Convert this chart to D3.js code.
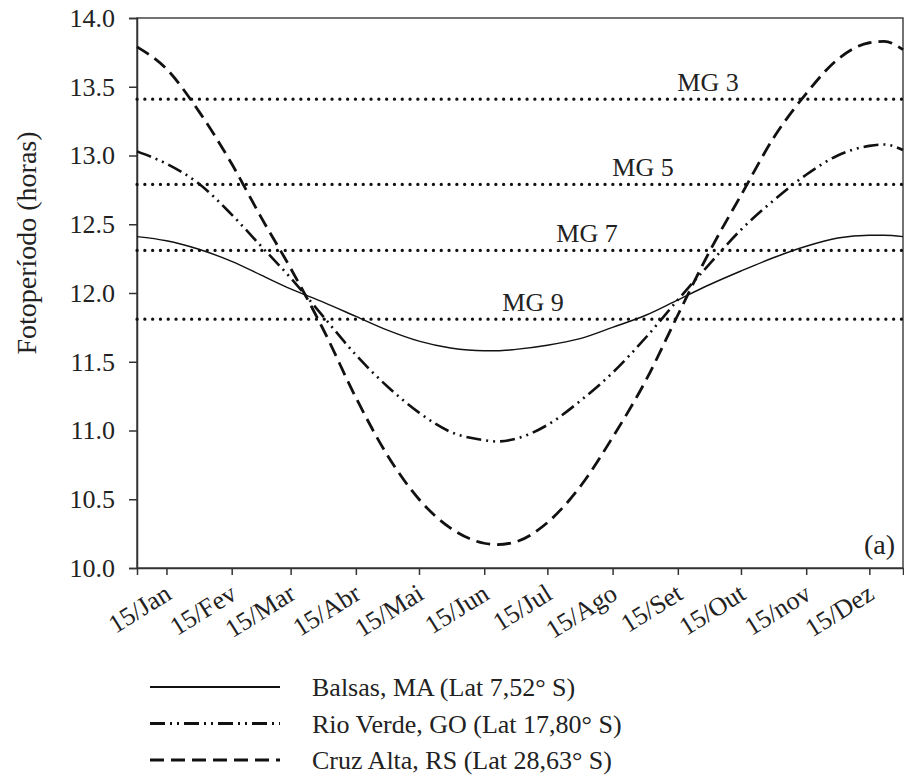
<!DOCTYPE html>
<html>
<head>
<meta charset="utf-8">
<script src="https://cdn.jsdelivr.net/npm/d3@7"></script>
<style>
  body { margin: 0; background: #fff; }
  svg { display: block; }
  svg text { font-family: "Liberation Serif", "Tinos", "Times New Roman", Times, "DejaVu Serif", serif; fill: #222; }
  .axis text { font-size: 26px; }
  .axis path, .axis line { stroke: #333; stroke-width: 1.5px; }
</style>
</head>
<body>
<div id="chart"></div>
<script>
// day of year for each sample
const days = [1, 15, 30, 46, 60, 74, 90, 105, 120, 135, 150, 166, 172, 181, 196,
  212, 227, 243, 258, 273, 288, 304, 319, 334, 349, 356, 365];

const balsas = [12.41, 12.38, 12.32, 12.23, 12.13, 12.03, 11.93, 11.83, 11.73, 11.65,
  11.60, 11.58, 11.58, 11.59, 11.62, 11.67, 11.75, 11.84, 11.95, 12.06, 12.16,
  12.26, 12.34, 12.40, 12.42, 12.42, 12.41];

const rioVerde = [13.03, 12.94, 12.80, 12.57, 12.34, 12.11, 11.82, 11.55, 11.32, 11.13,
  10.99, 10.93, 10.92, 10.94, 11.04, 11.22, 11.42, 11.68, 11.95, 12.21, 12.46,
  12.68, 12.86, 13.00, 13.07, 13.08, 13.04];

const cruzAlta = [13.79, 13.63, 13.33, 12.94, 12.55, 12.18, 11.72, 11.24, 10.82, 10.50,
  10.29, 10.18, 10.17, 10.19, 10.33, 10.60, 10.95, 11.37, 11.84, 12.30, 12.71,
  13.14, 13.45, 13.70, 13.82, 13.83, 13.77];

const seriesNames = [
  'Balsas, MA (Lat 7,52° S)',
  'Rio Verde, GO (Lat 17,80° S)',
  'Cruz Alta, RS (Lat 28,63° S)',
];

const mgLabels = ['MG 3', 'MG 5', 'MG 7', 'MG 9'];
const mgValues = [13.41, 12.79, 12.31, 11.81];

const tickDays = [15, 46, 74, 105, 135, 166, 196, 227, 258, 288, 319, 349];
const tickLabels = ['15/Jan', '15/Fev', '15/Mar', '15/Abr', '15/Mai', '15/Jun',
  '15/Jul', '15/Ago', '15/Set', '15/Out', '15/nov', '15/Dez'];

const yTicks = [10.0, 10.5, 11.0, 11.5, 12.0, 12.5, 13.0, 13.5, 14.0];

const width = 904;
const height = 779;
const margin = { top: 18, right: 1, bottom: 211, left: 137 };
const innerW = width - margin.left - margin.right;
const innerH = height - margin.top - margin.bottom;

const svg = d3.select('#chart')
  .append('svg')
  .attr('width', width)
  .attr('height', height);

const chart = svg.append('g')
  .attr('transform', `translate(${margin.left},${margin.top})`);

const x = d3.scaleLinear().domain([1, 365]).range([0, innerW]);
const y = d3.scaleLinear().domain([10, 14]).range([innerH, 0]);

// frame
chart.append('rect')
  .attr('width', innerW)
  .attr('height', innerH)
  .attr('fill', 'none')
  .attr('stroke', '#444')
  .attr('stroke-width', 1.5);

// axes
chart.append('g')
  .attr('class', 'axis')
  .call(d3.axisLeft(y).tickValues(yTicks).tickFormat(d3.format('.1f'))
    .tickSizeOuter(0).tickSize(8).tickPadding(14));

const xAxis = chart.append('g')
  .attr('class', 'axis')
  .attr('transform', `translate(0,${innerH})`)
  .call(d3.axisBottom(x).tickValues(tickDays)
    .tickFormat((d, i) => tickLabels[i]).tickSizeOuter(0).tickSize(7));

xAxis.selectAll('.tick text')
  .attr('text-anchor', 'end')
  .attr('dy', null)
  .attr('y', 0)
  .attr('transform', 'translate(6,30) rotate(-32)');

// MG reference lines
const mg = chart.append('g');
mg.selectAll('line')
  .data(mgValues)
  .join('line')
  .attr('x1', 0)
  .attr('x2', innerW)
  .attr('y1', (d) => y(d))
  .attr('y2', (d) => y(d))
  .attr('stroke', '#111')
  .attr('stroke-width', 3.2)
  .attr('stroke-linecap', 'round')
  .attr('stroke-dasharray', '0.1 7.7');

const mgLabelX = [571, 506, 450, 396];
mg.selectAll('text')
  .data(mgLabels)
  .join('text')
  .attr('x', (d, i) => mgLabelX[i])
  .attr('y', (d, i) => y(mgValues[i]) - 8)
  .attr('text-anchor', 'middle')
  .attr('font-size', 26)
  .text((d) => d);

// series
const styles = [
  { width: 1.4, dash: null },
  { width: 2.6, dash: '15 5 2 5 2 5' },
  { width: 2.8, dash: '14 7' },
];
const seriesValues = [balsas, rioVerde, cruzAlta];

const line = d3.line()
  .x((d) => x(d[0]))
  .y((d) => y(d[1]))
  .curve(d3.curveMonotoneX);

chart.append('g')
  .selectAll('path')
  .data(seriesValues)
  .join('path')
  .attr('d', (vals) => line(days.map((d, i) => [d, vals[i]])))
  .attr('fill', 'none')
  .attr('stroke', '#111')
  .attr('stroke-width', (d, i) => styles[i].width)
  .attr('stroke-dasharray', (d, i) => styles[i].dash);

chart.append('text')
  .attr('x', innerW - 8)
  .attr('y', innerH - 14)
  .attr('text-anchor', 'end')
  .attr('font-size', 28)
  .text('(a)');

// y label
svg.append('text')
  .attr('transform', `translate(36,${margin.top + innerH / 2 - 50}) rotate(-90)`)
  .attr('text-anchor', 'middle')
  .attr('font-size', 28)
  .text('Fotoperíodo (horas)');

// legend
const legend = svg.append('g').attr('transform', 'translate(150,687)');
const rows = legend.selectAll('g')
  .data(seriesNames)
  .join('g')
  .attr('transform', (d, i) => `translate(0,${i * 36.5})`);

rows.append('line')
  .attr('x1', 0)
  .attr('x2', 130)
  .attr('stroke', '#111')
  .attr('stroke-width', (d, i) => styles[i].width + 0.4)
  .attr('stroke-dasharray', (d, i) => styles[i].dash);

rows.append('text')
  .attr('x', 162)
  .attr('dy', '0.35em')
  .attr('font-size', 26)
  .text((d) => d);
</script>
</body>
</html>
